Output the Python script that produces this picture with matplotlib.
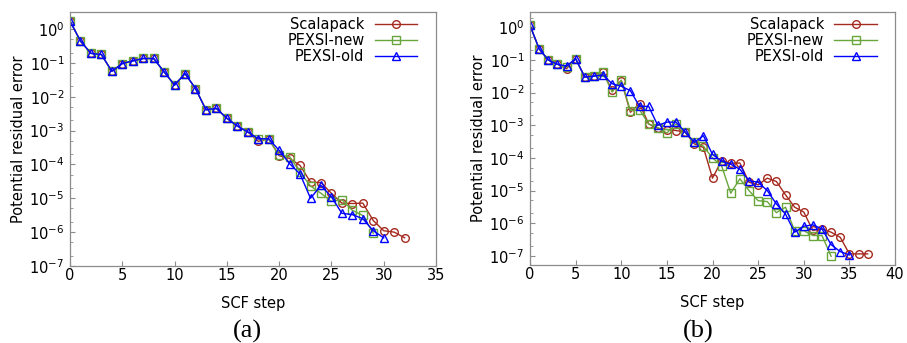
import matplotlib
matplotlib.use("Agg")
import matplotlib.pyplot as plt
from matplotlib.ticker import LogLocator, NullFormatter
import numpy as np

# ---------------- data ----------------
labels = ["Scalapack", "PEXSI-new", "PEXSI-old"]

shared_a = [1.7, 0.44, 0.19, 0.176, 0.056, 0.095, 0.114, 0.134, 0.134, 0.054,
            0.022, 0.048, 0.0174, 0.0041, 0.0045, 0.0023, 0.00136, 0.00091]

scal_a = shared_a + [4.8e-4, 5.7e-4, 1.8e-4, 1.5e-4, 9.3e-5, 3.0e-5, 2.9e-5,
                     1.4e-5, 7.2e-6, 7.0e-6, 7.2e-6, 2.2e-6, 1.1e-6, 1.0e-6, 6.8e-7]
new_a = shared_a + [5.7e-4, 5.5e-4, 1.9e-4, 1.7e-4, 5.9e-5, 2.3e-5, 1.4e-5,
                    8.1e-6, 9.1e-6, 4.4e-6, 3.1e-6, 9.3e-7]
old_a = shared_a + [5.7e-4, 5.7e-4, 2.6e-4, 1.05e-4, 5.2e-5, 1.0e-5, 2.4e-5,
                    1.1e-5, 3.6e-6, 3.3e-6, 2.5e-6, 1.1e-6, 6.8e-7]

scal_b = [1.15, 0.22, 0.10, 0.074, 0.054, 0.11, 0.030, 0.032, 0.042, 0.0117,
          0.0235, 0.0025, 0.0046, 0.0011, 8.1e-4, 7.4e-4, 6.9e-4, 6.2e-4, 2.7e-4, 2.1e-4,
          2.4e-5, 8.3e-5, 6.9e-5, 7.0e-5, 1.8e-5, 1.5e-5, 2.4e-5, 1.9e-5, 7.4e-6, 3.1e-6,
          2.2e-6, 6.0e-7, 6.7e-7, 5.3e-7, 3.7e-7, 1.15e-7, 1.15e-7, 1.15e-7]
new_b = [1.15, 0.22, 0.10, 0.074, 0.06, 0.11, 0.030, 0.032, 0.042, 0.0104,
         0.024, 0.0028, 0.0030, 0.0011, 8.5e-4, 5.8e-4, 1.1e-3, 6.2e-4, 3.0e-4, 2.3e-4,
         1.0e-4, 5.7e-5, 8.3e-6, 2.3e-5, 1.0e-5, 4.9e-6, 4.6e-6, 2.1e-6, 3.1e-6, 5.9e-7,
         5.9e-7, 4.2e-7, 4.2e-7, 9.7e-8]
old_b = [1.15, 0.22, 0.10, 0.074, 0.065, 0.11, 0.030, 0.032, 0.035, 0.0187,
         0.0157, 0.0115, 0.0038, 0.0038, 1.0e-3, 1.25e-3, 1.25e-3, 6.2e-4, 3.0e-4, 4.8e-4,
         1.28e-4, 8.0e-5, 6.4e-5, 4.5e-5, 2.0e-5, 1.8e-5, 1.0e-5, 3.9e-6, 1.9e-6, 5.3e-7,
         8.1e-7, 8.9e-7, 6.7e-7, 2.2e-7, 1.35e-7, 1.07e-7]

xticks_a = [0, 5, 10, 15, 20, 25, 30, 35]
xticks_b = [0, 5, 10, 15, 20, 25, 30, 35, 40]
panel_labels = ["(a)", "(b)"]

colors = ["#a52a1f", "#68a63c", "#0000ff"]
markers = ["o", "s", "^"]
grey = "#8c8c8c"

# ---------------- figure ----------------
plt.rcParams["font.family"] = ["DejaVu Sans"]
plt.rcParams["mathtext.fontset"] = "dejavusans"
fig = plt.figure(figsize=(9.07, 3.43), dpi=100)

ax_a = fig.add_axes([70/907, 1-266/343, 366/907, 254/343])
ax_b = fig.add_axes([530/907, 1-265/343, 365/907, 253/343])

panels = [
    (ax_a, [scal_a, new_a, old_a], (0, 35), (1e-7, 10**0.5), xticks_a, 0.964),
    (ax_b, [scal_b, new_b, old_b], (0, 40), (10**-7.28, 10**0.47), xticks_b, 0.966),
]

for ax, series, xl, yl, xt, lx in panels:
    for vals, lab, c, m in zip(series, labels, colors, markers):
        ax.plot(np.arange(len(vals)), vals, color=c, marker=m, label=lab,
                linewidth=1.0, markersize=5.5, markeredgewidth=1.0,
                fillstyle="none")
    ax.set_yscale("log")
    ax.set_xlim(*xl)
    ax.set_ylim(*yl)
    ax.set_xticks(xt)
    ax.yaxis.set_major_locator(LogLocator(base=10, numticks=20))
    ax.yaxis.set_minor_locator(LogLocator(base=10, subs=(2.0, 5.0), numticks=20))
    ax.yaxis.set_minor_formatter(NullFormatter())
    for s in ax.spines.values():
        s.set_color(grey)
        s.set_linewidth(0.9)
    ax.tick_params(axis="both", which="major", direction="in", length=3.5,
                   width=0.8, color=grey, labelsize=10.5)
    ax.tick_params(axis="x", which="major", pad=1.5)
    ax.tick_params(axis="y", which="major", pad=4)
    ax.tick_params(axis="y", which="minor", direction="in", length=2,
                   width=0.6, color=grey)
    ax.tick_params(top=False, right=False)
    ax.set_xlabel("SCF step", fontsize=10.5, labelpad=9.5)
    ax.set_ylabel("Potential residual error", fontsize=10.5, labelpad=2)
    ax.legend(loc="upper right", bbox_to_anchor=(lx, 1.002), borderaxespad=0,
              frameon=False, markerfirst=False, fontsize=10.5,
              handlelength=2.9, handletextpad=0.7, labelspacing=0.05)

fig.text(247/907, 1-331/343, panel_labels[0], family="Liberation Serif",
         fontsize=19, ha="center", va="center")
fig.text(698/907, 1-331/343, panel_labels[1], family="Liberation Serif",
         fontsize=19, ha="center", va="center")

fig.savefig("out.png", dpi=100)
